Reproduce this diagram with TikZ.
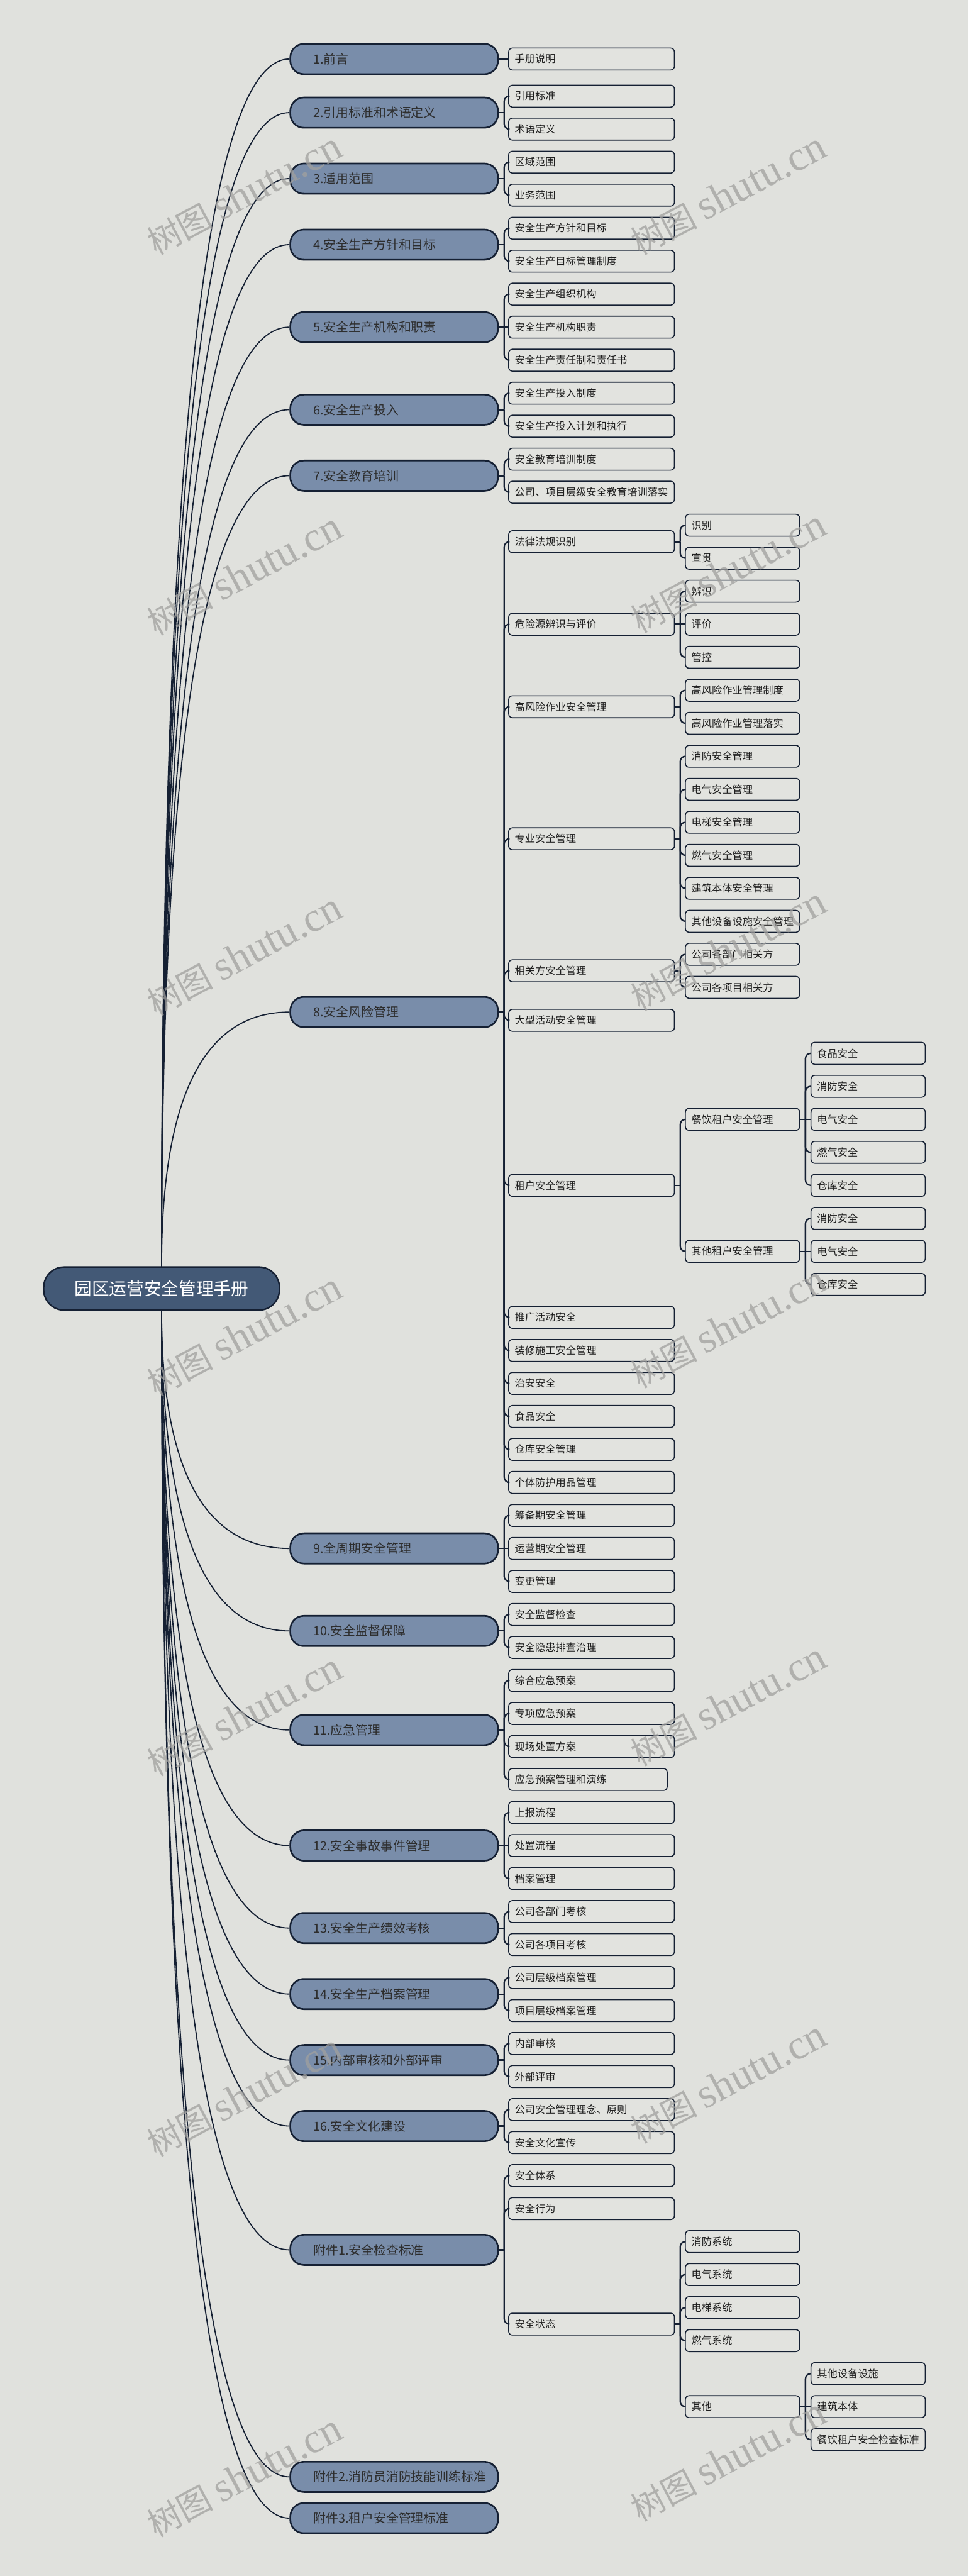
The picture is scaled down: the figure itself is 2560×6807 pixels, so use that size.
\documentclass[tikz,border=0pt]{standalone}
\usepackage{fontspec}
\setmainfont{Noto Sans CJK SC}
\newfontfamily\wmserif{Liberation Serif}
\usetikzlibrary{calc}
\definecolor{bgc}{RGB}{224,225,221}
\definecolor{l1fill}{RGB}{121,141,170}
\definecolor{rootfill}{RGB}{67,89,118}
\definecolor{linec}{RGB}{21,32,51}
\definecolor{l1text}{RGB}{45,45,45}
\definecolor{leaftext}{RGB}{30,30,30}
\definecolor{leaffill}{RGB}{226,227,223}
\definecolor{wmc}{RGB}{160,160,158}
\tikzset{
  rootbox/.style={draw=linec, line width=2pt, fill=rootfill, rounded corners=27pt,
    minimum width=311.5pt, minimum height=57pt, inner sep=0pt, align=center,
    text=white, font=\fontsize{23}{26}\selectfont},
  topic/.style={draw=linec, line width=2.2pt, fill=l1fill, rounded corners=18pt,
    text width=213.5pt, inner xsep=30.5pt, inner ysep=0pt, minimum height=40pt,
    align=left, anchor=west, text=l1text, font=\fontsize{16.5}{19}\selectfont},
  leafbox/.style={draw=linec, line width=1.3pt, fill=leaffill, rounded corners=5pt,
    text width=203pt, inner xsep=8pt, inner ysep=0pt, minimum height=29pt,
    align=left, anchor=west, text=leaftext, font=\fontsize{13.5}{16}\selectfont},
  subbox/.style={leafbox, text width=135pt},
  narrowbox/.style={leafbox, text width=193.5pt},
  rootconn/.style={draw=linec, line width=1.5pt},
  brconn/.style={draw=linec, line width=1.9pt},
  wm/.style={text=wmc, opacity=0.75, rotate=28, inner sep=0pt, anchor=center}
}
\newcommand\mmroot[2]{%
  \coordinate (rlc) at (root.#2 |- #1.west);
  \draw[rootconn] (root.#2) .. controls ($(root.#2)!0.6667!(rlc)$) and ($(#1.west)!0.6667!(rlc)$) .. (#1.west);}
\newcommand\mmstub[1]{\draw[brconn] (#1.east) -- ++(14,0);}
\newcommand\mmlink[2]{\draw[brconn, rounded corners=7pt] ($(#1.east)+(14,0)$) |- (#2.west);}
\newcommand\mmstraight[2]{\draw[brconn] (#1.east) -- (#2.west);}
\newcommand\wmtext{{\fontsize{44}{50}\selectfont 树图}\hspace{10pt}{\wmserif\fontsize{55}{60}\selectfont shutu.cn}}

\begin{document}
\begin{tikzpicture}[x=0.5pt,y=-0.5pt]
\fill[bgc] (0,0) rectangle (2560,6807);
\useasboundingbox (0,0) rectangle (2560,6807);

% root
\node[rootbox] (root) at (427,3405) {园区运营安全管理手册};

% level 1
\node[topic] (t1) at (765,156) {1.前言};
\node[topic] (t2) at (765,297.6) {2.引用标准和术语定义};
\node[topic] (t3) at (765,472.05) {3.适用范围};
\node[topic] (t4) at (765,646.5) {4.安全生产方针和目标};
\node[topic] (t5) at (765,864.5) {5.安全生产机构和职责};
\node[topic] (t6) at (765,1082.6) {6.安全生产投入};
\node[topic] (t7) at (765,1257) {7.安全教育培训};
\node[topic] (t8) at (765,2674.35) {8.安全风险管理};
\node[topic] (t9) at (765,4091.7) {9.全周期安全管理};
\node[topic] (t10) at (765,4309.7) {10.安全监督保障};
\node[topic] (t11) at (765,4571.4) {11.应急管理};
\node[topic] (t12) at (765,4876.7) {12.安全事故事件管理};
\node[topic] (t13) at (765,5094.7) {13.安全生产绩效考核};
\node[topic] (t14) at (765,5269.15) {14.安全生产档案管理};
\node[topic] (t15) at (765,5443.6) {15.内部审核和外部评审};
\node[topic] (t16) at (765,5618) {16.安全文化建设};
\node[topic] (t17) at (765,5945.1) {附件1.安全检查标准};
\node[topic] (t18) at (765,6545) {附件2.消防员消防技能训练标准};
\node[topic] (t19) at (765,6654) {附件3.租户安全管理标准};

% level 2
\node[leafbox] (a1) at (1343,156) {手册说明};
\node[leafbox] (b1) at (1343,254) {引用标准};
\node[leafbox] (b2) at (1343,341.2) {术语定义};
\node[leafbox] (c1) at (1343,428.4) {区域范围};
\node[leafbox] (c2) at (1343,515.7) {业务范围};
\node[leafbox] (d1) at (1343,602.9) {安全生产方针和目标};
\node[leafbox] (d2) at (1343,690.1) {安全生产目标管理制度};
\node[leafbox] (e1) at (1343,777.3) {安全生产组织机构};
\node[leafbox] (e2) at (1343,864.5) {安全生产机构职责};
\node[leafbox] (e3) at (1343,951.8) {安全生产责任制和责任书};
\node[leafbox] (f1) at (1343,1039.0) {安全生产投入制度};
\node[leafbox] (f2) at (1343,1126.2) {安全生产投入计划和执行};
\node[leafbox] (g1) at (1343,1213.4) {安全教育培训制度};
\node[leafbox] (g2) at (1343,1300.6) {公司、项目层级安全教育培训落实};

\node[leafbox] (h1) at (1343,1431.5) {法律法规识别};
\node[leafbox] (h2) at (1343,1649.5) {危险源辨识与评价};
\node[leafbox] (h3) at (1343,1867.6) {高风险作业安全管理};
\node[leafbox] (h4) at (1343,2216.45) {专业安全管理};
\node[leafbox] (h5) at (1343,2565.3) {相关方安全管理};
\node[leafbox] (h6) at (1343,2696.2) {大型活动安全管理};
\node[leafbox] (h7) at (1343,3132.25) {租户安全管理};
\node[leafbox] (h8) at (1343,3481.1) {推广活动安全};
\node[leafbox] (h9) at (1343,3568.4) {装修施工安全管理};
\node[leafbox] (h10) at (1343,3655.6) {治安安全};
\node[leafbox] (h11) at (1343,3742.8) {食品安全};
\node[leafbox] (h12) at (1343,3830.0) {仓库安全管理};
\node[leafbox] (h13) at (1343,3917.2) {个体防护用品管理};

% level 3 under 8
\node[subbox] (h1a) at (1810,1387.9) {识别};
\node[subbox] (h1b) at (1810,1475.1) {宣贯};
\node[subbox] (h2a) at (1810,1562.3) {辨识};
\node[subbox] (h2b) at (1810,1649.5) {评价};
\node[subbox] (h2c) at (1810,1736.7) {管控};
\node[subbox] (h3a) at (1810,1824.0) {高风险作业管理制度};
\node[subbox] (h3b) at (1810,1911.2) {高风险作业管理落实};
\node[subbox] (h4a) at (1810,1998.4) {消防安全管理};
\node[subbox] (h4b) at (1810,2085.6) {电气安全管理};
\node[subbox] (h4c) at (1810,2172.8) {电梯安全管理};
\node[subbox] (h4d) at (1810,2260.1) {燃气安全管理};
\node[subbox] (h4e) at (1810,2347.3) {建筑本体安全管理};
\node[subbox] (h4f) at (1810,2434.5) {其他设备设施安全管理};
\node[subbox] (h5a) at (1810,2521.7) {公司各部门相关方};
\node[subbox] (h5b) at (1810,2608.9) {公司各项目相关方};
\node[subbox] (h7a) at (1810,2957.8) {餐饮租户安全管理};
\node[subbox] (h7b) at (1810,3306.7) {其他租户安全管理};

% level 4
\node[subbox] (h7a1) at (2142,2783.4) {食品安全};
\node[subbox] (h7a2) at (2142,2870.6) {消防安全};
\node[subbox] (h7a3) at (2142,2957.8) {电气安全};
\node[subbox] (h7a4) at (2142,3045.0) {燃气安全};
\node[subbox] (h7a5) at (2142,3132.3) {仓库安全};
\node[subbox] (h7b1) at (2142,3219.5) {消防安全};
\node[subbox] (h7b2) at (2142,3306.7) {电气安全};
\node[subbox] (h7b3) at (2142,3393.9) {仓库安全};

% 9 - 16
\node[leafbox] (i1) at (1343,4004.5) {筹备期安全管理};
\node[leafbox] (i2) at (1343,4091.7) {运营期安全管理};
\node[leafbox] (i3) at (1343,4178.9) {变更管理};
\node[leafbox] (j1) at (1343,4266.1) {安全监督检查};
\node[leafbox] (j2) at (1343,4353.3) {安全隐患排查治理};
\node[leafbox] (k1) at (1343,4440.6) {综合应急预案};
\node[leafbox] (k2) at (1343,4527.8) {专项应急预案};
\node[leafbox] (k3) at (1343,4615.0) {现场处置方案};
\node[narrowbox] (k4) at (1343,4702.2) {应急预案管理和演练};
\node[leafbox] (l1) at (1343,4789.4) {上报流程};
\node[leafbox] (l2) at (1343,4876.7) {处置流程};
\node[leafbox] (l3) at (1343,4963.9) {档案管理};
\node[leafbox] (m1) at (1343,5051.1) {公司各部门考核};
\node[leafbox] (m2) at (1343,5138.3) {公司各项目考核};
\node[leafbox] (o1) at (1343,5225.5) {公司层级档案管理};
\node[leafbox] (o2) at (1343,5312.8) {项目层级档案管理};
\node[leafbox] (p1) at (1343,5400.0) {内部审核};
\node[leafbox] (p2) at (1343,5487.2) {外部评审};
\node[leafbox] (q1) at (1343,5574.4) {公司安全管理理念、原则};
\node[leafbox] (q2) at (1343,5661.6) {安全文化宣传};

% 附件1
\node[leafbox] (r1) at (1343,5748.9) {安全体系};
\node[leafbox] (r2) at (1343,5836.1) {安全行为};
\node[leafbox] (r3) at (1343,6141.35) {安全状态};
\node[subbox] (r3a) at (1810,5923.3) {消防系统};
\node[subbox] (r3b) at (1810,6010.5) {电气系统};
\node[subbox] (r3c) at (1810,6097.7) {电梯系统};
\node[subbox] (r3d) at (1810,6185.0) {燃气系统};
\node[subbox] (r3e) at (1810,6359.4) {其他};
\node[subbox] (r3e1) at (2142,6272.2) {其他设备设施};
\node[subbox] (r3e2) at (2142,6359.4) {建筑本体};
\node[subbox] (r3e3) at (2142,6446.6) {餐饮租户安全检查标准};

% root links
\foreach \t in {t1,t2,t3,t4,t5,t6,t7,t8} {\mmroot{\t}{north}}
\foreach \t in {t9,t10,t11,t12,t13,t14,t15,t16,t17,t18,t19} {\mmroot{\t}{south}}

% brackets
\foreach \p in {t1,t2,t3,t4,t5,t6,t7,t8,t9,t10,t11,t12,t13,t14,t15,t16,t17,h1,h2,h3,h4,h5,h7,h7a,h7b,r3,r3e} {\mmstub{\p}}
\mmstraight{t1}{a1}
\mmlink{t2}{b1}\mmlink{t2}{b2}
\mmlink{t3}{c1}\mmlink{t3}{c2}
\mmlink{t4}{d1}\mmlink{t4}{d2}
\mmlink{t5}{e1}\mmstraight{t5}{e2}\mmlink{t5}{e3}
\mmlink{t6}{f1}\mmlink{t6}{f2}
\mmlink{t7}{g1}\mmlink{t7}{g2}
\foreach \c in {h1,h2,h3,h4,h5,h6,h7,h8,h9,h10,h11,h12,h13} {\mmlink{t8}{\c}}
\mmlink{h1}{h1a}\mmlink{h1}{h1b}
\mmlink{h2}{h2a}\mmstraight{h2}{h2b}\mmlink{h2}{h2c}
\mmlink{h3}{h3a}\mmlink{h3}{h3b}
\foreach \c in {h4a,h4b,h4c,h4d,h4e,h4f} {\mmlink{h4}{\c}}
\mmlink{h5}{h5a}\mmlink{h5}{h5b}
\mmlink{h7}{h7a}\mmlink{h7}{h7b}
\mmlink{h7a}{h7a1}\mmlink{h7a}{h7a2}\mmstraight{h7a}{h7a3}\mmlink{h7a}{h7a4}\mmlink{h7a}{h7a5}
\mmlink{h7b}{h7b1}\mmstraight{h7b}{h7b2}\mmlink{h7b}{h7b3}
\mmlink{t9}{i1}\mmstraight{t9}{i2}\mmlink{t9}{i3}
\mmlink{t10}{j1}\mmlink{t10}{j2}
\mmlink{t11}{k1}\mmlink{t11}{k2}\mmlink{t11}{k3}\mmlink{t11}{k4}
\mmlink{t12}{l1}\mmstraight{t12}{l2}\mmlink{t12}{l3}
\mmlink{t13}{m1}\mmlink{t13}{m2}
\mmlink{t14}{o1}\mmlink{t14}{o2}
\mmlink{t15}{p1}\mmlink{t15}{p2}
\mmlink{t16}{q1}\mmlink{t16}{q2}
\mmlink{t17}{r1}\mmlink{t17}{r2}\mmlink{t17}{r3}
\foreach \c in {r3a,r3b,r3c,r3d,r3e} {\mmlink{r3}{\c}}
\mmlink{r3e}{r3e1}\mmstraight{r3e}{r3e2}\mmlink{r3e}{r3e3}

% watermarks
\foreach \k in {0,...,6} {
  \node[wm] (wmL\k) at (646,{513+1005*\k}) {\wmtext};
  \node[wm] (wmR\k) at (1925,{513+998*\k}) {\wmtext};
}
\end{tikzpicture}
\end{document}
